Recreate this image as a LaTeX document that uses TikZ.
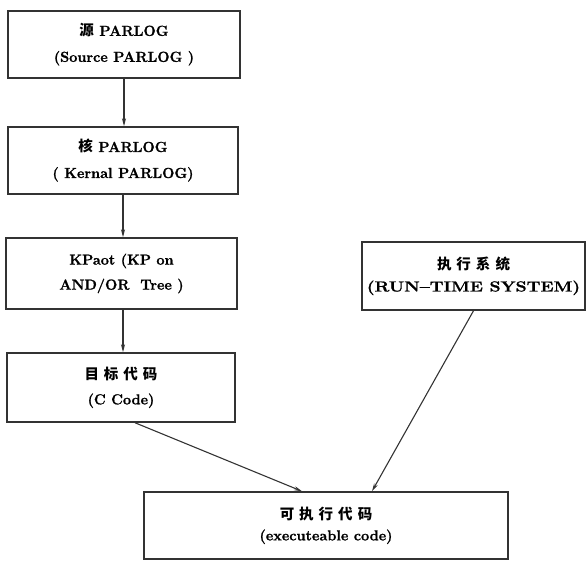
\documentclass[tikz,border=0pt]{standalone}
\usepackage{fontspec}
\usepackage{graphicx}
\setmainfont{Latin Modern Roman}[BoldFeatures={FakeBold=1.2}]
\newfontfamily\cjk{Noto Sans CJK SC}
\usetikzlibrary{arrows.meta}
\newcommand\gp{\hspace{5pt}}
\begin{document}
\begin{tikzpicture}[x=1pt,y=-1pt,
  box/.style={draw=black!80, line width=1.5pt, rectangle, inner sep=0pt, align=center,
    font=\bfseries\fontsize{14.5pt}{26pt}\selectfont},
  conn/.style={draw=black!80, line width=1.1pt, -{Stealth[length=8pt,width=4pt]}}]
\useasboundingbox (0,0) rectangle (588,561);
\node[box, line width=2.2pt, minimum width=232pt, minimum height=67pt] (b1) at (124,44.5)
  {{\cjk\bfseries 源} PARLOG\\(Source PARLOG )};
\node[box, minimum width=230pt, minimum height=67pt] (b2) at (123,160.5)
  {{\cjk\bfseries 核} PARLOG\\( Kernal PARLOG)};
\node[box, minimum width=231pt, minimum height=71pt, font=\bfseries\fontsize{14.5pt}{25pt}\selectfont] (b3) at (121.5,273.5)
  {KPaot (KP on\\AND/OR\ \ Tree )};
\node[box, minimum width=228pt, minimum height=69pt, font=\bfseries\fontsize{14.5pt}{25pt}\selectfont] (b4) at (121,387.5)
  {{\cjk\bfseries 目\gp{}标\gp{}代\gp{}码}\\(C Code)};
\node[box, minimum width=223pt, minimum height=68pt, font=\bfseries\fontsize{14.5pt}{22pt}\selectfont] (b5) at (473.5,276)
  {{\cjk\bfseries 执\gp{}行\gp{}系\gp{}统}\\\scalebox{1.22}[1]{(RUN--TIME SYSTEM)}};
\node[box, minimum width=364pt, minimum height=67pt, font=\bfseries\fontsize{14.5pt}{21pt}\selectfont] (b6) at (326,525.5)
  {{\cjk\bfseries 可\gp{}执\gp{}行\gp{}代\gp{}码}\\(executeable code)};
\draw[conn] (b1.south) -- (b1.south |- b2.north);
\draw[conn] (b2.south) -- (b2.south |- b3.north);
\draw[conn] ([xshift=1.5pt]b3.south) -- ([xshift=1.5pt]b3.south |- b4.north);
\draw[conn] ([xshift=14pt]b4.south) -- ([xshift=-24pt]b6.north);
\draw[conn] (b5.south) -- ([xshift=46pt]b6.north);
\end{tikzpicture}
\end{document}
